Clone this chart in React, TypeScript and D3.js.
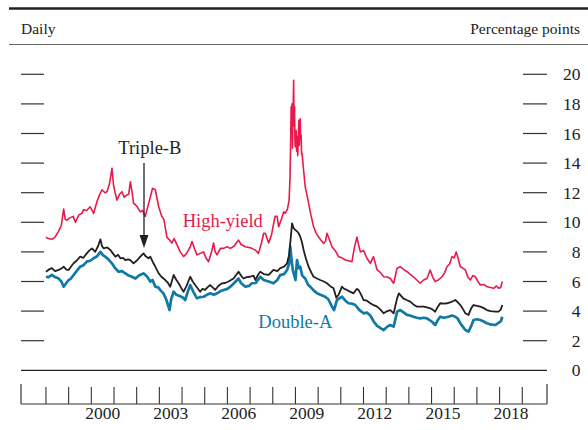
import React from "react";
import * as d3 from "d3";

// ---------- Data (years as decimal years) ----------
const highYieldYears = [
  1998.0, 1998.1, 1998.26, 1998.4, 1998.56, 1998.68, 1998.78, 1998.85, 1998.92, 1999.05, 1999.2, 1999.3, 1999.45,
  1999.58, 1999.66, 1999.8, 1999.95, 2000.1, 2000.25, 2000.35, 2000.47, 2000.6, 2000.69, 2000.8, 2000.91, 2000.98,
  2001.05, 2001.13, 2001.25, 2001.35, 2001.45, 2001.57, 2001.65, 2001.72, 2001.8, 2001.86, 2002.0, 2002.16, 2002.25,
  2002.38, 2002.48, 2002.6, 2002.7, 2002.82, 2002.97, 2003.11, 2003.2, 2003.33, 2003.45, 2003.55, 2003.65, 2003.78,
  2003.92, 2004.07, 2004.2, 2004.35, 2004.44, 2004.55, 2004.66, 2004.8, 2004.95, 2005.05, 2005.17, 2005.3, 2005.39,
  2005.46, 2005.54, 2005.69, 2005.83, 2005.98, 2006.13, 2006.3, 2006.49, 2006.6, 2006.79, 2006.95, 2007.08, 2007.25,
  2007.37, 2007.5, 2007.6, 2007.67, 2007.75, 2007.82, 2007.95, 2008.1, 2008.19, 2008.26, 2008.38, 2008.48, 2008.55,
  2008.65, 2008.72, 2008.76, 2008.79, 2008.81, 2008.83, 2008.85, 2008.87, 2008.89, 2008.91, 2008.92, 2008.94,
  2008.96, 2008.98, 2009.0, 2009.03, 2009.05, 2009.07, 2009.1, 2009.12, 2009.15, 2009.17, 2009.19, 2009.21, 2009.23,
  2009.25, 2009.27, 2009.29, 2009.36, 2009.43, 2009.5, 2009.58, 2009.68, 2009.8, 2009.9, 2010.02, 2010.12, 2010.24,
  2010.32, 2010.39, 2010.48, 2010.61, 2010.75, 2010.9, 2011.05, 2011.2, 2011.35, 2011.49, 2011.6, 2011.71, 2011.78,
  2011.86, 2012.0, 2012.15, 2012.3, 2012.44, 2012.6, 2012.75, 2012.89, 2013.05, 2013.18, 2013.33, 2013.48, 2013.62,
  2013.78, 2013.92, 2014.05, 2014.2, 2014.35, 2014.5, 2014.65, 2014.8, 2014.94, 2015.05, 2015.16, 2015.3, 2015.46,
  2015.58, 2015.68, 2015.8, 2015.9, 2016.0, 2016.09, 2016.18, 2016.27, 2016.38, 2016.49, 2016.6, 2016.71, 2016.82,
  2016.93, 2017.05, 2017.15, 2017.3, 2017.44, 2017.6, 2017.74, 2017.86, 2017.96, 2018.05, 2018.12,
];
const highYieldValues = [
  9.0, 8.9, 8.85, 9.0, 9.4, 9.8, 10.9, 10.2, 10.15, 10.3, 10.4, 10.0, 10.5,
  10.6, 10.85, 10.8, 11.05, 10.6, 11.4, 11.8, 12.2, 12.0, 12.07, 12.6, 13.65, 12.5,
  12.0, 11.5, 11.9, 12.07, 11.7, 11.85, 11.9, 12.74, 12.0, 11.3, 11.1, 10.7, 10.8,
  10.4, 11.0, 11.7, 12.3, 12.2, 11.05, 10.4, 10.2, 9.0, 8.8, 8.6, 8.9, 8.47,
  8.0, 7.68, 7.9, 8.3, 8.7, 8.2, 7.8, 7.9, 8.0, 7.6, 7.34, 8.0, 8.6,
  8.0, 7.8, 8.24, 8.24, 8.35, 8.24, 8.4, 8.8, 8.5, 8.35, 8.3, 8.24, 8.1,
  7.9, 8.6, 9.26, 9.26, 8.9, 8.6, 9.2, 10.4, 10.4, 9.7, 10.2, 10.7, 10.6,
  10.9, 11.5, 13.0, 15.6, 17.8, 16.2, 18.0, 15.0, 17.2, 18.6, 19.6, 16.5,
  17.8, 15.2, 15.1, 16.2, 14.8, 15.8, 14.5, 15.4, 16.9, 15.2, 16.6, 17.0, 15.6,
  15.9, 14.6, 14.66, 13.5, 12.4, 11.9, 11.3, 10.5, 9.7, 9.3, 9.0, 8.8, 8.58,
  8.7, 9.26, 8.9, 8.35, 8.1, 7.68, 7.6, 7.45, 7.4, 7.34, 8.3, 9.0, 8.5,
  8.0, 8.1, 7.57, 7.23, 7.68, 6.78, 6.6, 6.32, 6.3, 6.2, 5.88, 6.9, 7.0,
  6.8, 6.66, 6.5, 6.32, 6.1, 5.88, 6.1, 6.2, 6.78, 6.3, 6.0, 6.1, 6.32,
  6.6, 7.0, 7.2, 7.68, 7.6, 8.0, 7.5, 7.0, 6.9, 6.78, 6.3, 6.1, 6.4,
  6.32, 6.0, 5.76, 5.8, 5.65, 5.6, 5.54, 5.7, 5.54, 5.6, 6.0,
];

const tripleBYears = [
  1998.0, 1998.12, 1998.26, 1998.4, 1998.56, 1998.7, 1998.78, 1998.9, 1999.0, 1999.1, 1999.22, 1999.35, 1999.51,
  1999.65, 1999.8, 1999.92, 2000.03, 2000.17, 2000.3, 2000.4, 2000.47, 2000.54, 2000.7, 2000.84, 2000.95, 2001.06,
  2001.18, 2001.28, 2001.4, 2001.5, 2001.62, 2001.72, 2001.86, 2002.0, 2002.16, 2002.3, 2002.4, 2002.52, 2002.6,
  2002.74, 2002.82, 2002.97, 2003.1, 2003.26, 2003.38, 2003.48, 2003.63, 2003.75, 2003.85, 2003.95, 2004.07, 2004.2,
  2004.36, 2004.47, 2004.58, 2004.8, 2004.9, 2005.02, 2005.12, 2005.24, 2005.35, 2005.46, 2005.6, 2005.76, 2005.9,
  2006.05, 2006.27, 2006.49, 2006.6, 2006.71, 2006.85, 2007.0, 2007.15, 2007.23, 2007.35, 2007.45, 2007.6, 2007.82,
  2008.03, 2008.2, 2008.33, 2008.5, 2008.63, 2008.72, 2008.77, 2008.85, 2008.92, 2008.99, 2009.07, 2009.14, 2009.21,
  2009.28, 2009.36, 2009.47, 2009.58, 2009.7, 2009.8, 2009.95, 2010.09, 2010.25, 2010.39, 2010.52, 2010.68, 2010.8,
  2010.9, 2011.05, 2011.15, 2011.27, 2011.42, 2011.56, 2011.7, 2011.78, 2011.9, 2012.0, 2012.15, 2012.3, 2012.45,
  2012.6, 2012.75, 2012.89, 2013.05, 2013.18, 2013.33, 2013.48, 2013.56, 2013.62, 2013.75, 2013.9, 2014.06, 2014.2,
  2014.36, 2014.5, 2014.65, 2014.8, 2014.94, 2015.05, 2015.16, 2015.28, 2015.38, 2015.55, 2015.68, 2015.85, 2016.05,
  2016.15, 2016.27, 2016.4, 2016.49, 2016.63, 2016.75, 2016.85, 2017.0, 2017.15, 2017.3, 2017.44, 2017.6, 2017.81,
  2017.95, 2018.05, 2018.12,
];
const tripleBValues = [
  6.66, 6.8, 6.9, 6.7, 6.78, 6.9, 7.0, 6.8, 6.78, 7.0, 7.23, 7.4, 7.68,
  7.6, 7.9, 8.1, 8.24, 8.0, 8.4, 8.85, 8.4, 8.24, 8.3, 8.13, 7.9, 7.68,
  7.8, 7.57, 7.6, 7.45, 7.5, 7.45, 7.23, 7.4, 7.68, 7.9, 7.7, 7.57, 7.68,
  7.23, 7.0, 6.55, 6.3, 6.1, 5.9, 5.65, 6.44, 6.1, 5.88, 5.6, 5.31, 5.7,
  6.32, 6.0, 5.76, 5.31, 5.5, 5.43, 5.6, 5.76, 5.6, 5.43, 5.7, 5.88, 5.9,
  6.0, 6.2, 6.66, 6.4, 6.2, 6.3, 6.32, 6.4, 6.1, 6.45, 6.66, 6.5, 6.44,
  6.78, 6.7, 6.9, 7.0, 7.23, 7.8, 8.58, 9.93, 9.6, 9.48, 9.4, 9.26, 9.03,
  8.7, 8.13, 7.5, 7.0, 6.6, 6.32, 6.2, 6.1, 6.0, 5.88, 5.7, 5.54, 4.9,
  5.1, 5.65, 5.5, 5.43, 5.3, 5.2, 5.5, 5.43, 5.1, 4.75, 4.7, 4.53, 4.4,
  4.3, 4.1, 3.85, 4.0, 4.07, 3.85, 4.86, 5.2, 5.1, 4.86, 4.75, 4.64, 4.45,
  4.3, 4.3, 4.3, 4.25, 4.19, 4.1, 3.96, 4.3, 4.53, 4.5, 4.53, 4.6, 4.75,
  4.6, 4.41, 4.1, 3.85, 3.74, 4.2, 4.41, 4.35, 4.3, 4.2, 4.07, 4.0, 3.96,
  3.96, 4.1, 4.41,
];

const doubleAYears = [
  1998.0, 1998.12, 1998.26, 1998.4, 1998.56, 1998.68, 1998.78, 1998.9, 1999.0, 1999.1, 1999.22, 1999.35, 1999.51,
  1999.65, 1999.8, 1999.95, 2000.1, 2000.25, 2000.4, 2000.5, 2000.61, 2000.75, 2000.91, 2001.05, 2001.2, 2001.35,
  2001.5, 2001.65, 2001.79, 2001.95, 2002.1, 2002.3, 2002.45, 2002.6, 2002.7, 2002.82, 2002.95, 2003.05, 2003.18,
  2003.3, 2003.45, 2003.52, 2003.63, 2003.75, 2003.92, 2004.05, 2004.14, 2004.25, 2004.36, 2004.5, 2004.66, 2004.8,
  2004.95, 2005.1, 2005.24, 2005.4, 2005.54, 2005.7, 2005.83, 2006.0, 2006.13, 2006.3, 2006.49, 2006.6, 2006.79,
  2006.95, 2007.08, 2007.25, 2007.45, 2007.6, 2007.82, 2008.03, 2008.2, 2008.33, 2008.5, 2008.63, 2008.72, 2008.77,
  2008.82, 2008.88, 2008.95, 2009.0, 2009.07, 2009.14, 2009.21, 2009.3, 2009.43, 2009.55, 2009.65, 2009.8, 2009.95,
  2010.1, 2010.31, 2010.45, 2010.61, 2010.7, 2010.83, 2011.05, 2011.2, 2011.34, 2011.5, 2011.64, 2011.8, 2012.0,
  2012.15, 2012.3, 2012.45, 2012.6, 2012.75, 2012.89, 2013.05, 2013.18, 2013.33, 2013.48, 2013.62, 2013.78, 2013.92,
  2014.05, 2014.2, 2014.35, 2014.5, 2014.65, 2014.8, 2015.02, 2015.16, 2015.28, 2015.38, 2015.55, 2015.75, 2015.9,
  2016.05, 2016.15, 2016.27, 2016.4, 2016.49, 2016.63, 2016.75, 2016.85, 2017.0, 2017.15, 2017.3, 2017.44, 2017.6,
  2017.81, 2017.95, 2018.05, 2018.12,
];
const doubleAValues = [
  6.32, 6.3, 6.44, 6.3, 6.2, 6.0, 5.65, 5.9, 6.1, 6.2, 6.44, 6.7, 7.0,
  7.1, 7.34, 7.4, 7.57, 7.7, 8.0, 7.8, 7.68, 7.5, 7.23, 6.9, 6.66, 6.7,
  6.55, 6.4, 6.32, 6.2, 6.4, 6.55, 6.35, 6.0, 6.1, 5.65, 5.6, 5.4, 5.2,
  4.8, 4.07, 4.8, 5.31, 5.1, 5.0, 4.9, 4.75, 5.3, 5.76, 5.3, 4.86, 4.95,
  4.97, 5.1, 5.2, 5.1, 5.2, 5.35, 5.43, 5.5, 5.65, 5.9, 6.2, 5.9, 5.65,
  5.7, 5.88, 5.9, 6.32, 6.1, 6.0, 5.88, 6.1, 6.44, 6.5, 6.78, 7.2, 8.35,
  7.6, 6.8, 6.4, 6.1, 7.45, 6.9, 7.0, 6.4, 6.2, 5.8, 5.65, 5.4, 5.2,
  5.1, 4.97, 4.8, 4.3, 4.07, 4.75, 4.97, 4.7, 4.53, 4.5, 4.41, 4.1, 3.85,
  3.9, 3.7, 3.3, 3.0, 2.85, 2.72, 2.95, 3.06, 2.95, 3.96, 4.07, 3.9, 3.74,
  3.7, 3.62, 3.55, 3.51, 3.55, 3.51, 3.28, 3.06, 3.4, 3.62, 3.55, 3.62, 3.7,
  3.62, 3.5, 3.18, 2.9, 2.72, 2.61, 3.0, 3.4, 3.45, 3.4, 3.3, 3.18, 3.1,
  3.06, 3.2, 3.3, 3.62,
];

const yTicks = [0, 2, 4, 6, 8, 10, 12, 14, 16, 18, 20];
const yearTickYears = [1998, 1999, 2000, 2001, 2002, 2003, 2004, 2005, 2006, 2007, 2008, 2009, 2010, 2011, 2012, 2013, 2014, 2015, 2016, 2017, 2018, 2019];
const yearLabels = [2000, 2003, 2006, 2009, 2012, 2015, 2018];

const RED = "#e8194b";
const BLUE = "#0f7aa6";
const BLACK = "#231f20";
const FONT = "'Liberation Serif', 'Times New Roman', serif";

export default function App() {
  const W = 588;
  const H = 430;
  const left = 21;
  const right = 547;
  const x = d3.scaleLinear().domain([1996.9, 2020.09]).range([left, right]);
  const y = d3.scaleLinear().domain([0, 20]).range([370.3, 74.3]);

  const makePath = (years: number[], vals: number[]) =>
    d3
      .line<number>()
      .x((_, i) => x(years[i]))
      .y((v) => y(v))
      .curve(d3.curveLinear)(vals) || "";

  const hyPath = makePath(highYieldYears, highYieldValues);
  const bbbPath = makePath(tripleBYears, tripleBValues);
  const aaPath = makePath(doubleAYears, doubleAValues);

  const axisBottom = 404;
  const arrowX = 144;

  return (
    <svg
      width={W}
      height={H}
      style={{ position: "absolute", left: 0, top: 0, background: "#fff" }}
      fontFamily={FONT}
    >
      <rect x={0} y={0} width={W} height={H} fill="#fff" />
      {/* header */}
      <line x1={9} x2={W} y1={8.5} y2={8.5} stroke="#222" strokeWidth={2.5} />
      <text x={21} y={34} fontSize={15.5} fill="#222">Daily</text>
      <text x={580} y={34} fontSize={15.5} fill="#222" textAnchor="end">Percentage points</text>
      <line x1={9} x2={W} y1={44.5} y2={44.5} stroke="#666" strokeWidth={1} />

      {/* y ticks left & right */}
      {yTicks.map((t) => (
        <g key={t}>
          {t !== 0 && <line x1={21} x2={44} y1={y(t)} y2={y(t)} stroke="#333" strokeWidth={1.2} />}
          {t !== 0 && <line x1={523} x2={547} y1={y(t)} y2={y(t)} stroke="#333" strokeWidth={1.2} />}
          <text x={580.5} y={y(t)} dy="0.35em" fontSize={17.5} fill="#222" textAnchor="end">
            {t}
          </text>
        </g>
      ))}
      {/* zero line */}
      <line x1={left} x2={right} y1={y(0)} y2={y(0)} stroke="#222" strokeWidth={1.3} />

      {/* bottom axis */}
      <line x1={left} x2={right} y1={axisBottom} y2={axisBottom} stroke="#333" strokeWidth={1.2} />
      <line x1={left} x2={left} y1={384} y2={axisBottom} stroke="#333" strokeWidth={1.2} />
      <line x1={right} x2={right} y1={384} y2={axisBottom} stroke="#333" strokeWidth={1.2} />
      {yearTickYears.map((yr) => (
        <line key={yr} x1={x(yr)} x2={x(yr)} y1={387} y2={axisBottom} stroke="#333" strokeWidth={1.1} />
      ))}
      {yearLabels.map((yr) => (
        <text key={yr} x={x(yr + 0.5)} y={419} fontSize={17.5} fill="#222" textAnchor="middle">
          {yr}
        </text>
      ))}

      {/* series */}
      <path d={hyPath} fill="none" stroke={RED} strokeWidth={1.6} strokeLinejoin="round" />
      <path d={aaPath} fill="none" stroke={BLUE} strokeWidth={2.7} strokeLinejoin="round" />
      <path d={bbbPath} fill="none" stroke={BLACK} strokeWidth={1.8} strokeLinejoin="round" />

      {/* labels */}
      <text x={118.3} y={154} fontSize={18.5} fill={BLACK}>Triple-B</text>
      <line x1={arrowX} x2={arrowX} y1={163} y2={238} stroke={BLACK} strokeWidth={1.3} />
      <path d={`M${arrowX - 4.5},${235} L${arrowX + 4.5},${235} L${arrowX},${248} Z`} fill={BLACK} />
      <text x={182.7} y={227} fontSize={18.5} fill={RED}>High-yield</text>
      <text x={258.3} y={328} fontSize={18.5} fill={BLUE}>Double-A</text>
    </svg>
  );
}
